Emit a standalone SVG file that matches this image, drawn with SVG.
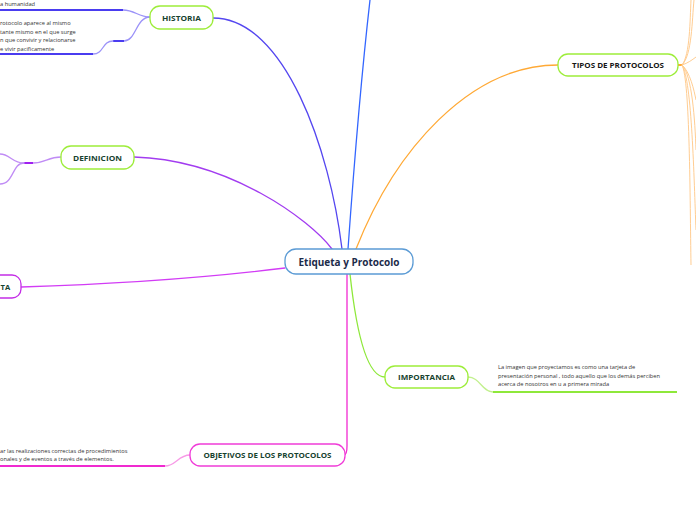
<svg xmlns="http://www.w3.org/2000/svg" width="696" height="520" viewBox="0 0 696 520">
<style>
.node{fill:#fff;stroke:#9ded3a;stroke-width:1.3}
.lbl{font-family:"Open Sans","Noto Sans",sans-serif;font-weight:bold;font-size:7.6px;fill:#17432f;text-anchor:middle;dominant-baseline:central}
.sm{font-family:"Open Sans","Noto Sans",sans-serif;font-size:5.7px;fill:#333}
.c{fill:none;stroke-width:1.3;stroke-linecap:round}
.th{fill:none;stroke-width:2}
</style>
<rect width="696" height="520" fill="#fff"/>
<g id="connectors">
  <path class="c" stroke="#5446f0" d="M213 18 C285 18 330 150 342 249"/>
  <path class="c" stroke="#3366ff" d="M348 249 C354 165 362 70 370 0"/>
  <path class="c" stroke="#a23cf0" d="M134 157 C230 160 310 220 332 249"/>
  <path class="c" stroke="#ffa935" d="M356 249 C395 150 470 65 558 65"/>
  <path class="c" stroke="#d23cf5" d="M21 287 C120 284 220 276 285 268"/>
  <path class="c" stroke="#f22ad2" d="M347 274 L347 446 C347 452 346 455 344 455"/>
  <path class="c" stroke="#8ee83a" d="M350 274 C355 320 365 377 385 377"/>
  <path class="c" stroke="#9b92f8" stroke-width="1" d="M150 17 C138 17 135 10 123 10"/>
  <path class="th" stroke="#4a3cf0" d="M123 10 L0 10"/>
  <path class="c" stroke="#9b92f8" stroke-width="1" d="M150 17 C136 17 136 41 124 41"/>
  <path class="th" stroke="#4a3cf0" d="M124 41 L113 41"/>
  <path class="c" stroke="#9b92f8" stroke-width="1" d="M113 41 C102 41 104 54 93 54"/>
  <path class="th" stroke="#4a3cf0" d="M93 54 L0 54"/>
  <path class="c" stroke="#c08cf5" stroke-width="1" d="M61 157 C48 157 45 163 33 163"/>
  <path class="th" stroke="#a020f0" d="M33 163 L24 163"/>
  <path class="c" stroke="#c08cf5" stroke-width="1" d="M24 163 C12 163 10 154 0 154"/>
  <path class="c" stroke="#c08cf5" stroke-width="1" d="M24 163 C12 163 14 184 0 184"/>
  <path class="c" stroke="#f79ae6" stroke-width="1" d="M190 455 C178 455 176 466 165 466"/>
  <path class="th" stroke="#f02ad0" d="M165 466 L0 466"/>
  <path class="c" stroke="#c2f08e" stroke-width="1" d="M468 377 C480 377 482 392 493 392"/>
  <path class="th" stroke="#8ee83a" d="M493 392 L677 392"/>
  <path class="th" stroke="#ffa935" d="M678 65 L682 65"/>
  <g stroke="#ffcd92" stroke-width="1" fill="none">
    <path d="M682 65 C690 55 690 20 691 0"/>
    <path d="M682 65 C692 55 692 20 694 0"/>
    <path d="M682 65 C688 63 692 60 696 57"/>
    <path d="M682 65 C690 72 694 90 696 100"/>
    <path d="M682 65 C692 75 695 120 696 150"/>
    <path d="M682 65 C692 80 694 180 696 230"/>
    <path d="M682 65 C690 80 690 200 691 265"/>
  </g>
</g>
<g id="center">
  <rect x="285" y="249" width="128" height="25" rx="11" fill="#fff" stroke="#5b9bd5" stroke-width="1.3"/>
  <text x="349" y="261.5" font-family="Open Sans, Noto Sans, sans-serif" font-weight="bold" font-size="10" fill="#1c2b4a" text-anchor="middle" dominant-baseline="central" textLength="101" lengthAdjust="spacingAndGlyphs">Etiqueta y Protocolo</text>
</g>
<g id="historia">
  <rect class="node" x="150" y="6" width="63" height="23" rx="10"/>
  <text class="lbl" x="181.5" y="17.5" textLength="39" lengthAdjust="spacingAndGlyphs">HISTORIA</text>
  <text class="sm" x="0" y="6">a humanidad</text>
  <text class="sm" x="0" y="25">rotocolo aparece al mismo</text>
  <text class="sm" x="0" y="33.5">tante mismo en el que surge</text>
  <text class="sm" x="0" y="42">n que convivir y relacionarse</text>
  <text class="sm" x="0" y="50.5">e vivir pacificamente</text>
</g>
<g id="definicion">
  <rect class="node" x="61" y="146" width="73" height="23" rx="10"/>
  <text class="lbl" x="97.5" y="157.5" textLength="49" lengthAdjust="spacingAndGlyphs">DEFINICION</text>
</g>
<g id="ta">
  <rect x="-30" y="275" width="51" height="23" rx="9" fill="#fff" stroke="#c42ee6" stroke-width="1.3"/>
  <text class="lbl" x="0.5" y="286.5" text-anchor="start" style="text-anchor:start">TA</text>
</g>
<g id="tipos">
  <rect class="node" x="558" y="54" width="120" height="22" rx="10"/>
  <text class="lbl" x="618" y="65" style="fill:#161616" textLength="92" lengthAdjust="spacingAndGlyphs">TIPOS DE PROTOCOLOS</text>
</g>
<g id="importancia">
  <rect class="node" x="385" y="366" width="83" height="22" rx="10"/>
  <text class="lbl" x="426.5" y="377" textLength="57" lengthAdjust="spacingAndGlyphs">IMPORTANCIA</text>
  <text class="sm" x="498" y="369">La imagen que proyectamos es como una tarjeta de</text>
  <text class="sm" x="498" y="377.5">presentación personal , todo aquello que los demás  perciben</text>
  <text class="sm" x="498" y="386">acerca de nosotros en u a primera mirada</text>
</g>
<g id="objetivos">
  <rect x="190" y="444" width="155" height="22" rx="10" fill="#fff" stroke="#f03cd8" stroke-width="1.3"/>
  <text class="lbl" x="267.5" y="455" textLength="128" lengthAdjust="spacingAndGlyphs">OBJETIVOS DE LOS PROTOCOLOS</text>
  <text class="sm" x="0" y="452.5">ar las realizaciones correctas de procedimientos</text>
  <text class="sm" x="0" y="461">onales y de eventos a través de elementos.</text>
</g>
</svg>
